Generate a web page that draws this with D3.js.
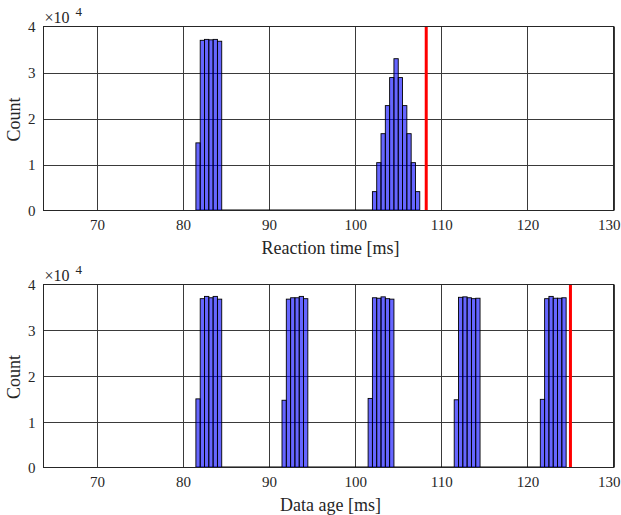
<!DOCTYPE html>
<html>
<head>
<meta charset="utf-8">
<script src="https://cdn.jsdelivr.net/npm/d3@7"></script>
<style>
  html, body { margin: 0; padding: 0; background: #fff; }
  svg { display: block; }
  text { font-family: "Liberation Serif", "DejaVu Serif", serif; fill: #262626; }
</style>
</head>
<body>
<svg id="chart" width="621" height="515"></svg>
<script>
// Histogram bins: width 0.5 ms, each cluster listed by its first bin edge.
const binWidth = 0.5;

const reactionClusterStarts = [81.5, 102.0];
const reactionCounts = [
  [14700, 37000, 37200, 37100, 37200, 36800],
  [4100, 10400, 16700, 22800, 28900, 33000, 28900, 22800, 16700, 10400, 4100]
];
const reactionLimit = 108.25;

const dataAgeClusterStarts = [81.5, 91.5, 101.5, 111.5, 121.5];
const dataAgeCounts = [
  [15000, 36900, 37400, 37100, 37400, 36800],
  [14700, 36800, 37100, 37100, 37400, 36900],
  [15100, 37100, 37000, 37300, 36900, 36800],
  [14800, 37200, 37300, 37100, 36900, 37000],
  [14900, 36900, 37400, 37000, 37000, 37100]
];
const dataAgeLimit = 125.0;

const xTicks = [70, 80, 90, 100, 110, 120, 130];
const yTicks = [0, 10000, 20000, 30000, 40000];
const xDomain = [63.8, 130];
const yDomain = [0, 40000];

const svg = d3.select("#chart");
const left = 43.5, right = 613.5;

const panels = [
  { top: 26.5, bottom: 210.5, starts: reactionClusterStarts, counts: reactionCounts,
    limit: reactionLimit, xlabel: "Reaction time [ms]", xlabelY: 254, tickY: 232 },
  { top: 284.5, bottom: 467.5, starts: dataAgeClusterStarts, counts: dataAgeCounts,
    limit: dataAgeLimit, xlabel: "Data age [ms]", xlabelY: 511, tickY: 489 }
];

const x = d3.scaleLinear().domain(xDomain).range([left, right]);

panels.forEach(p => {
  const y = d3.scaleLinear().domain(yDomain).range([p.bottom, p.top]);
  const g = svg.append("g");

  // grid
  g.append("g").selectAll("line").data(xTicks).join("line")
    .attr("x1", d => Math.round(x(d)) + 0.5).attr("x2", d => Math.round(x(d)) + 0.5)
    .attr("y1", p.top).attr("y2", p.bottom)
    .attr("stroke", "#3a3a3a").attr("stroke-width", 1);
  g.append("g").selectAll("line").data(yTicks.slice(1, -1)).join("line")
    .attr("x1", left).attr("x2", right)
    .attr("y1", d => Math.round(y(d)) + 0.5).attr("y2", d => Math.round(y(d)) + 0.5)
    .attr("stroke", "#3a3a3a").attr("stroke-width", 1);

  // bins
  const bins = [];
  p.starts.forEach((s, ci) => {
    p.counts[ci].forEach((c, i) => {
      bins.push({ x0: s + i * binWidth, x1: s + (i + 1) * binWidth, count: c });
    });
  });
  const firstEdge = d3.min(bins, b => b.x0);
  const lastEdge = d3.max(bins, b => b.x1);

  // empty bins between clusters sit on the baseline
  g.append("line")
    .attr("x1", x(firstEdge)).attr("x2", x(lastEdge))
    .attr("y1", p.bottom - 0.5).attr("y2", p.bottom - 0.5)
    .attr("stroke", "#000").attr("stroke-width", 1);

  g.append("g").selectAll("rect").data(bins).join("rect")
    .attr("x", d => x(d.x0))
    .attr("width", d => x(d.x1) - x(d.x0))
    .attr("y", d => y(d.count))
    .attr("height", d => y(0) - y(d.count))
    .attr("fill", "#0000ff").attr("fill-opacity", 0.6)
    .attr("stroke", "#000").attr("stroke-width", 0.9);

  // limit marker
  g.append("line")
    .attr("x1", x(p.limit)).attr("x2", x(p.limit))
    .attr("y1", p.top).attr("y2", p.bottom)
    .attr("stroke", "#ff0000").attr("stroke-width", 3);

  // box
  g.append("rect")
    .attr("x", left).attr("y", p.top)
    .attr("width", right - left).attr("height", p.bottom - p.top)
    .attr("fill", "none").attr("stroke", "#262626").attr("stroke-width", 1);

  // tick labels via d3 axes
  const xAxis = g.append("g")
    .attr("transform", `translate(0,${p.tickY - 13})`)
    .call(d3.axisBottom(x).tickValues(xTicks).tickSize(0).tickPadding(0).tickFormat(d3.format("d")));
  xAxis.select(".domain").remove();
  xAxis.selectAll("text").attr("font-size", 15).attr("dy", "0.75em")
    .attr("font-family", "Liberation Serif").attr("fill", "#262626");
  // keep the last label inside the page edge
  xAxis.selectAll(".tick").filter(d => d === xTicks[xTicks.length - 1])
    .select("text").attr("text-anchor", "end").attr("x", 620 - x(xTicks[xTicks.length - 1]));

  const yAxis = g.append("g")
    .attr("transform", `translate(${left - 8},0)`)
    .call(d3.axisLeft(y).tickValues(yTicks).tickSize(0).tickPadding(0).tickFormat(d => d / 10000));
  yAxis.select(".domain").remove();
  yAxis.selectAll("text").attr("font-size", 15).attr("dy", "0.35em")
    .attr("font-family", "Liberation Serif").attr("fill", "#262626");

  // exponent
  const ex = g.append("text").attr("x", left + 1).attr("y", p.top - 4).attr("font-size", 16);
  ex.append("tspan").text("\u00d710");
  ex.append("tspan").attr("dx", 6).attr("dy", -7).attr("font-size", 13).text("4");

  // titles
  g.append("text").attr("x", (left + right) / 2 + 2).attr("y", p.xlabelY)
    .attr("text-anchor", "middle").attr("font-size", 18).text(p.xlabel);
  g.append("text")
    .attr("transform", `translate(20,${(p.top + p.bottom) / 2 + 1}) rotate(-90)`)
    .attr("text-anchor", "middle").attr("font-size", 18).text("Count");
});
</script>
</body>
</html>
